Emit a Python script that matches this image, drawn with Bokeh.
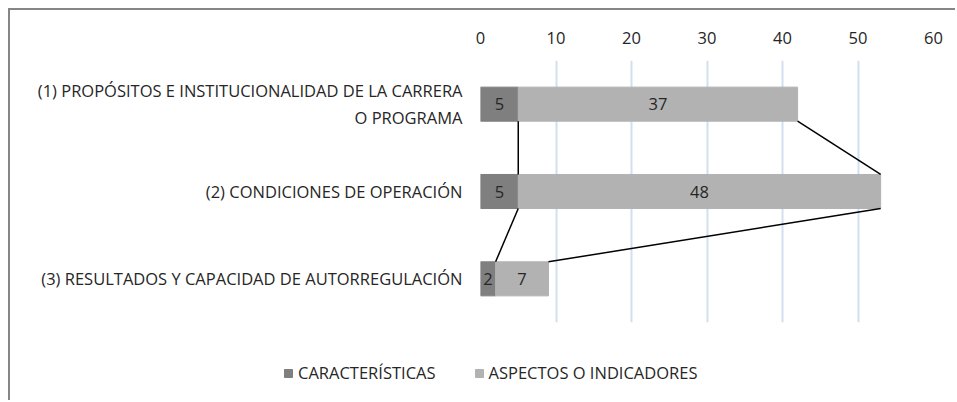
from bokeh.plotting import figure
from bokeh.layouts import column
from bokeh.models import (FactorRange, Range1d, FixedTicker, Legend, LegendItem,
                          ColumnDataSource)
from bokeh.core.properties import value
from bokeh.embed import file_html
from bokeh.resources import INLINE

# ---- data ----
categories = [
    "(1) PROPÓSITOS E INSTITUCIONALIDAD DE LA CARRERA\nO PROGRAMA",
    "(2) CONDICIONES DE OPERACIÓN",
    "(3) RESULTADOS Y CAPACIDAD DE AUTORREGULACIÓN",
]
caracteristicas = [5, 5, 2]
aspectos = [37, 48, 7]
series_names = ["CARACTERÍSTICAS", "ASPECTOS O INDICADORES"]
x_ticks = [0, 10, 20, 30, 40, 50, 60]

FONT = "Open Sans"
FS = "16.5px"
DARK = "#7f7f7f"
LIGHT = "#b2b2b2"
TXT = "#262626"
BAR_H = 0.39

totals = [c + a for c, a in zip(caracteristicas, aspectos)]

src = ColumnDataSource(dict(
    cat=categories,
    car=caracteristicas,
    asp=aspectos,
    tot=totals,
    car_mid=[c / 2 for c in caracteristicas],
    asp_mid=[c + a / 2 for c, a in zip(caracteristicas, aspectos)],
    car_lbl=[str(v) for v in caracteristicas],
    asp_lbl=[str(v) for v in aspectos],
))

# ---------------- main chart ----------------
p = figure(
    width=945, height=335, frame_width=453, frame_height=262,
    y_range=FactorRange(factors=list(reversed(categories))),
    x_range=Range1d(0, 60),
    x_axis_location="above",
    output_backend="svg", toolbar_location=None,
    min_border_left=470, min_border_right=22,
    min_border_top=50, min_border_bottom=23,
)
p.outline_line_color = None
p.background_fill_color = "white"
p.border_fill_color = "white"

p.hbar(y="cat", left=0, right="car", height=BAR_H, source=src,
       fill_color=DARK, line_color=DARK)
p.hbar(y="cat", left="car", right="tot", height=BAR_H, source=src,
       fill_color=LIGHT, line_color=LIGHT)

# series lines connecting the bars
seg = dict(x0=[], y0=[], x1=[], y1=[])
for i in range(len(categories) - 1):
    for vals in (caracteristicas, totals):
        seg["x0"].append(vals[i])
        seg["y0"].append((categories[i], -BAR_H / 2))
        seg["x1"].append(vals[i + 1])
        seg["y1"].append((categories[i + 1], BAR_H / 2))
p.segment(x0="x0", y0="y0", x1="x1", y1="y1", source=ColumnDataSource(seg),
          line_color="black", line_width=1.5)

# data labels
for xcol, tcol in (("car_mid", "car_lbl"), ("asp_mid", "asp_lbl")):
    p.text(x=xcol, y="cat", text=tcol, source=src, text_align="center",
           text_baseline="middle", text_font=value(FONT),
           text_font_size=FS, text_color=TXT)

xa = p.xaxis[0]
xa.ticker = FixedTicker(ticks=x_ticks)
xa.axis_line_color = None
xa.major_tick_line_color = None
xa.minor_tick_line_color = None
xa.major_label_text_font = FONT
xa.major_label_text_font_size = FS
xa.major_label_text_color = TXT
xa.major_label_standoff = 11

ya = p.yaxis[0]
ya.axis_line_color = None
ya.major_tick_line_color = None
ya.major_tick_out = 0
ya.major_label_text_font = FONT
ya.major_label_text_font_size = FS
ya.major_label_text_color = TXT
ya.major_label_standoff = 18

p.xgrid.grid_line_color = "#d2dfef"
p.xgrid.grid_line_width = 2
p.ygrid.grid_line_color = None

# ---------------- legend strip ----------------
q = figure(
    width=945, height=55,
    y_range=FactorRange(factors=list(reversed(categories))),
    x_range=Range1d(0, 60),
    x_axis_type=None, y_axis_type=None,
    output_backend="svg", toolbar_location=None, min_border=0,
)
if "frame_align" in q.properties():
    q.frame_align = False
    p.frame_align = False
q.outline_line_color = None
q.background_fill_color = "white"
q.border_fill_color = "white"
k1 = q.hbar(y="cat", left=0, right="car", height=BAR_H, source=src,
            fill_color=DARK, line_color=DARK, visible=False)
k2 = q.hbar(y="cat", left="car", right="tot", height=BAR_H, source=src,
            fill_color=LIGHT, line_color=LIGHT, visible=False)

legend = Legend(
    items=[LegendItem(label=series_names[0], renderers=[k1]),
           LegendItem(label=series_names[1], renderers=[k2])],
    orientation="horizontal", location=(273, 16),
    glyph_width=10, glyph_height=10, label_standoff=5, spacing=38,
    padding=0, margin=0, border_line_color=None, background_fill_alpha=0,
    inactive_fill_alpha=0,
    label_text_font=FONT, label_text_font_size=FS, label_text_color=TXT,
)
q.add_layout(legend, "center")

layout = column(p, q, spacing=0,
                styles={"margin-left": "8px", "margin-top": "8px",
                        "border-top": "2px solid #868686",
                        "border-left": "2px solid #868686"})

open("out.html", "w").write(file_html(layout, INLINE))
